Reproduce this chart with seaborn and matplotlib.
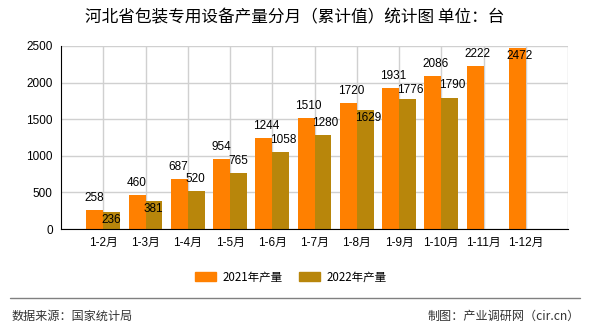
import numpy as np
import pandas as pd
import matplotlib
matplotlib.use("Agg")
import matplotlib.pyplot as plt
import seaborn as sns
from matplotlib.patches import Patch

months = ["1-2月", "1-3月", "1-4月", "1-5月", "1-6月", "1-7月", "1-8月", "1-9月", "1-10月", "1-11月", "1-12月"]
prod_2021 = [258, 460, 687, 954, 1244, 1510, 1720, 1931, 2086, 2222, 2472]
prod_2022 = [236, 381, 520, 765, 1058, 1280, 1629, 1776, 1790, np.nan, np.nan]
series_names = ["2021年产量", "2022年产量"]
colors = ["#FF8000", "#B8860B"]
yticks = [0, 500, 1000, 1500, 2000, 2500]

# label vertical offsets (pixels from bar top; positive = above)
off_2021 = [12, 12, 12, 12, 12, 12, 12, 12, 12, 12, -8]
off_2022 = [-8, -8, 12, 12, 12, 12, -8, 9, 13, 0, 0]

sns.set_style("white")
plt.rcParams['font.family'] = ['Liberation Sans', 'Noto Sans CJK SC', 'DejaVu Sans']
plt.rcParams['text.color'] = 'black'
plt.rcParams['xtick.labelcolor'] = 'black'
plt.rcParams['ytick.labelcolor'] = 'black'
CJK = ['Noto Sans CJK SC', 'DejaVu Sans']

df = pd.DataFrame({
    "month": months * 2,
    "value": prod_2021 + prod_2022,
    "series": [series_names[0]] * len(months) + [series_names[1]] * len(months),
})

fig = plt.figure(figsize=(5.9, 3.3), dpi=100)
ax = fig.add_axes([61 / 590, 1 - 229 / 330, (568 - 61) / 590, (229 - 46) / 330])

sns.barplot(data=df, x="month", y="value", hue="series", order=months,
            hue_order=series_names, palette=colors, width=0.8, saturation=1,
            errorbar=None, legend=False, ax=ax, zorder=2, linewidth=0, edgecolor="none")

ax.set_xlim(-1, len(months))
ax.set_ylim(0, 2500)
ax.set_yticks(yticks)
ax.set_yticklabels([str(t) for t in yticks], fontsize=8.5)
ax.set_xticks(range(len(months)))
ax.set_xticklabels(months, fontsize=8.5)
ax.set_xlabel("")
ax.set_ylabel("")
ax.grid(True, color="#d0d0d0", linewidth=1, zorder=0)
ax.set_axisbelow(True)
for s in ["top", "right"]:
    ax.spines[s].set_visible(False)
ax.spines["left"].set_color("black")
ax.spines["bottom"].set_color("black")
ax.tick_params(axis="both", direction="out", length=4, width=1, color="black", pad=2)
ax.axvline(len(months), color="#d0d0d0", linewidth=1, zorder=0)

px2pt = 72 / 100
for cont, vals, offs in zip(ax.containers, [prod_2021, prod_2022], [off_2021, off_2022]):
    for bar, v, o in zip(cont, vals, offs):
        if np.isnan(v):
            continue
        ax.annotate(str(int(v)), xy=(bar.get_x(), bar.get_height()),
                    xytext=(-1.5, o * px2pt), textcoords="offset points",
                    ha="left", va="center", fontsize=8.5,
                    color="black", zorder=5, annotation_clip=False)

handles = [Patch(color=c, label=n) for c, n in zip(colors, series_names)]
fig.legend(handles=handles, loc="center", bbox_to_anchor=(291 / 590, 1 - 277 / 330),
           ncol=2, frameon=False, prop={'family': CJK, 'size': 8.3},
           handlelength=1.85, handleheight=0.8, labelcolor='black',
           columnspacing=1.4, handletextpad=0.55)

fig.text(294.5 / 590, 1 - 18 / 330, "河北省包装专用设备产量分月（累计值）统计图 单位：台",
         ha="center", va="center", fontsize=12, family=CJK, color='black')
fig.add_artist(plt.Line2D([10 / 590, 580 / 590], [1 - 298 / 330] * 2,
                          color="#808080", linewidth=1))
fig.text(12 / 590, 1 - 316 / 330, "数据来源：国家统计局", ha="left", va="center",
         fontsize=8.7, color="#333333", family=CJK)
fig.text(580 / 590, 1 - 316 / 330, "制图：产业调研网（cir.cn）", ha="right", va="center",
         fontsize=8.7, color="#333333", family=CJK)

fig.savefig("out.png", dpi=100)
